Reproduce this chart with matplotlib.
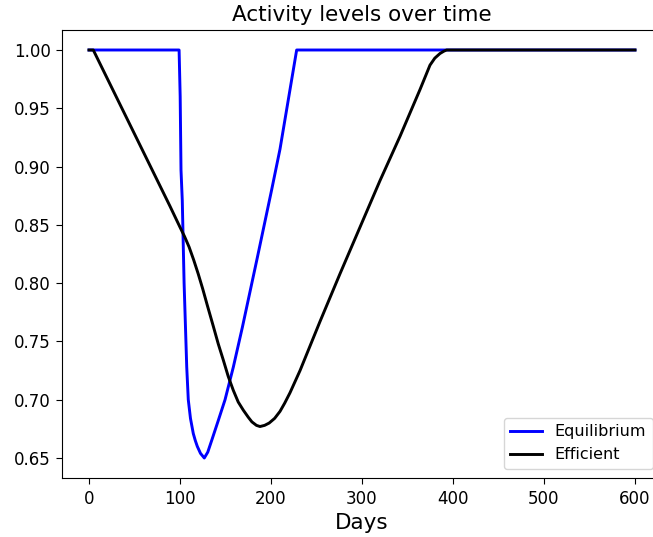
import matplotlib
matplotlib.use("Agg")
import matplotlib.pyplot as plt

# Equilibrium activity (days, level)
eq_days = [0, 99, 100.2, 101.1, 102.5, 104.5, 107.4, 109.1, 111.5, 114.6, 116.8, 119, 122.5,
           126.7, 130.5, 134.8, 142, 149.5, 158.6, 168.5, 185, 200.7, 209.9, 228.2, 400, 600]
eq_vals = [1.0, 1.0, 0.96, 0.897, 0.871, 0.80, 0.728, 0.700, 0.684, 0.671, 0.665, 0.660,
           0.654, 0.650, 0.655, 0.665, 0.682, 0.700, 0.728, 0.762, 0.822, 0.880, 0.915,
           1.0, 1.0, 1.0]

# Efficient activity (days, level)
ef_days = [0, 4.7, 50, 89, 100, 105, 110, 115, 120, 125, 130, 136.6, 142, 147.6, 153,
           158.6, 164, 169.6, 175, 179, 184, 187.9, 193, 198, 204, 209.9, 215, 220.9,
           231.9, 253.8, 275.8, 297.8, 319.8, 341.8, 363.7, 370, 374.7, 380, 385.7, 390,
           393, 450, 600]
ef_vals = [1.0, 1.0, 0.928, 0.866, 0.848, 0.840, 0.831, 0.820, 0.808, 0.795, 0.781, 0.763,
           0.748, 0.734, 0.720, 0.708, 0.698, 0.691, 0.685, 0.681, 0.678, 0.677, 0.678,
           0.680, 0.684, 0.690, 0.697, 0.706, 0.725, 0.767, 0.808, 0.848, 0.888, 0.926,
           0.966, 0.978, 0.987, 0.993, 0.997, 0.999, 1.0, 1.0, 1.0]

fig = plt.figure(figsize=(6.53, 5.37), dpi=100)
W, H = 653, 537
ax = fig.add_axes([61.7 / W, 1 - 478.4 / H, (662.3 - 61.7) / W, (478.4 - 29.6) / H])

ax.plot(eq_days, eq_vals, color="blue", lw=2.1, label="Equilibrium")
ax.plot(ef_days, ef_vals, color="black", lw=2.1, label="Efficient")

ax.set_xlim(-30, 630)
ax.set_ylim(0.6325, 1.0175)
ax.set_xticks([0, 100, 200, 300, 400, 500, 600])
ax.set_yticks([0.65, 0.70, 0.75, 0.80, 0.85, 0.90, 0.95, 1.00])
ax.set_yticklabels([f"{v:.2f}" for v in [0.65, 0.70, 0.75, 0.80, 0.85, 0.90, 0.95, 1.00]])
ax.tick_params(labelsize=12, length=4.5)
ax.set_title("Activity levels over time", fontsize=15.5)
ax.set_xlabel("Days", fontsize=15.5)
ax.legend(loc="lower right", fontsize=11.5, borderaxespad=0.6)

fig.savefig("out.png", dpi=100)
